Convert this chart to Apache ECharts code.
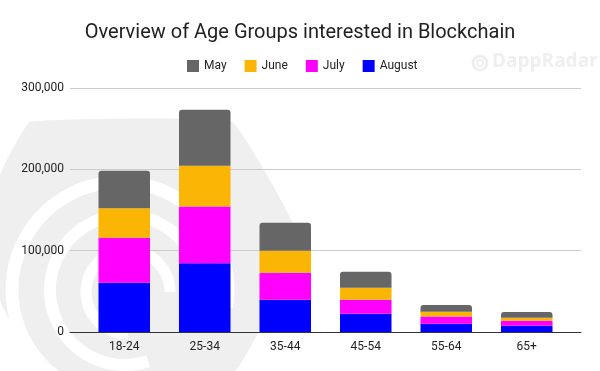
<!DOCTYPE html>
<html><head><meta charset="utf-8">
<script src="https://cdn.jsdelivr.net/npm/echarts@6/dist/echarts.min.js"></script>
<style>html,body{margin:0;padding:0;background:#fff}#c{width:600px;height:371px}</style>
</head><body><div id="c"></div>
<script>
const categories = ['18-24','25-34','35-44','45-54','55-64','65+'];
const may    = [46300, 68800, 34400, 19600, 8200, 7000];
const june   = [36000, 50100, 27100, 14800, 5800, 3700];
const july   = [55400, 70000, 33200, 17200, 9000, 6200];
const august = [60600, 84400, 39700, 22500, 10200, 7700];
const yTicks = [0, 100000, 200000, 300000];

const chart = echarts.init(document.getElementById('c'), null, {renderer:'canvas'});
const font = 'Roboto, Arial, sans-serif';
function ser(name, data, color, top){
  return {name, type:'bar', stack:'s', data, barWidth:'64%', xAxisIndex:1, yAxisIndex:1,
    itemStyle:{color, borderRadius: top ? [3,3,0,0] : 0}, z:3};
}
const wm = '#efefef';
chart.setOption({
  animation:false,
  title:{text:'Overview of Age Groups interested in Blockchain', left:'center', top:18,
    textStyle:{fontFamily:font, fontSize:20, fontWeight:'normal', color:'#222'}},
  legend:{top:55, left:182, itemWidth:12, itemHeight:12, itemGap:18, icon:'rect',
    data:['May','June','July','August'],
    textStyle:{fontFamily:font, fontSize:12, color:'#222'}},
  graphic:[
    {type:'circle', z:-10, shape:{cx:480, cy:63, r:7}, style:{fill:'none', stroke:wm, lineWidth:3}},
    {type:'circle', z:-10, shape:{cx:480, cy:63, r:3}, style:{fill:'none', stroke:wm, lineWidth:2}},
    {type:'text', z:-10, x:492, y:52, style:{text:'DappRadar', font:'bold 19px "Open Sans", Arial', fill:wm}},
    {type:'polygon', z:-10, shape:{points:[[30,122],[232,122],[300,240],[235,371],[40,371],[0,300],[0,175]], smooth:0.08}, style:{fill:wm}},
    {type:'arc', z:-9, shape:{cx:120, cy:290, r:108, startAngle:Math.PI*0.35, endAngle:Math.PI*2.05}, style:{fill:'none', stroke:'#fff', lineWidth:13}},
    {type:'arc', z:-9, shape:{cx:125, cy:290, r:75, startAngle:Math.PI*0.4, endAngle:Math.PI*2.0}, style:{fill:'none', stroke:'#fff', lineWidth:12}},
    {type:'arc', z:-9, shape:{cx:128, cy:292, r:42, startAngle:Math.PI*0.5, endAngle:Math.PI*2.0}, style:{fill:'none', stroke:'#fff', lineWidth:11}}
  ],
  grid:[{left:70, right:19, top:88, bottom:39},{left:84, right:33, top:88, bottom:39}],
  xAxis:[
    {type:'category', gridIndex:0, data:categories,
      axisLine:{lineStyle:{color:'#333', width:1}}, axisTick:{show:false}, axisLabel:{show:false}},
    {type:'category', gridIndex:1, data:categories,
      axisLine:{show:false}, axisTick:{show:false},
      axisLabel:{fontFamily:font, fontSize:12, color:'#222', margin:9}}
  ],
  yAxis:[
    {type:'value', gridIndex:0, min:0, max:300000, interval:100000,
      axisLine:{show:false}, axisTick:{show:false},
      splitLine:{lineStyle:{color:'#cccccc'}},
      axisLabel:{fontFamily:font, fontSize:12, color:'#222', margin:6,
        formatter:v=>yTicks.includes(v)?v.toLocaleString('en-US'):''}},
    {type:'value', gridIndex:1, min:0, max:300000, interval:100000,
      axisLine:{show:false}, axisTick:{show:false}, splitLine:{show:false}, axisLabel:{show:false}}
  ],
  series:[
    ser('August', august, '#0000ff', false),
    ser('July', july, '#ff00ff', false),
    ser('June', june, '#fbb605', false),
    ser('May', may, '#666666', true)
  ]
});
</script></body></html>
